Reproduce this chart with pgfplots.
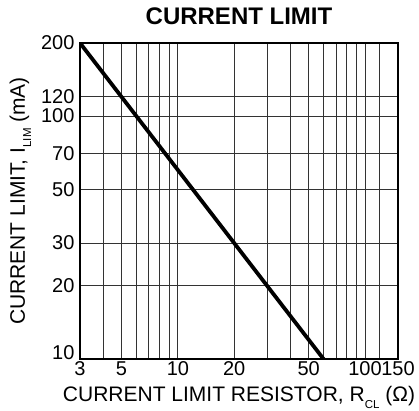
\documentclass[border=0pt]{standalone}
\usepackage{fontspec}
\setmainfont{Liberation Sans}
\usepackage{pgfplots}
\pgfplotsset{compat=1.18}
\begin{document}
\begin{tikzpicture}
\begin{axis}[
  xmode=log, ymode=log,
  scale only axis, width=318pt, height=316pt,
  xmin=3, xmax=150, ymin=10, ymax=200,
  xtick={3,5,10,20,50,100,150},
  xticklabels={3,5,10,20,50,100,150},
  ytick={10,20,30,50,70,100,120,200},
  yticklabels={\raisebox{12pt}{10},20,30,50,70,100,120,200},
  minor xtick={4,6,7,8,9,30,40,60,70,80,90,120},
  minor ytick={},
  grid=both,
  major grid style={black!80, line width=0.9pt},
  minor grid style={black!80, line width=0.9pt},
  major tick length=0pt, minor tick length=0pt,
  axis line style={line width=2.2pt},
  tick label style={font=\fontsize{20}{23}\selectfont},
  yticklabel style={xshift=-2pt},
  xticklabel style={yshift=1pt},
  xlabel={CURRENT LIMIT RESISTOR, R\raisebox{-0.55ex}{\fontsize{11.5}{12}\selectfont CL} (Ω)},
  ylabel={CURRENT LIMIT, I\raisebox{-0.55ex}{\fontsize{11.5}{12}\selectfont LIM} (mA)},
  xlabel style={font=\fontsize{21}{24}\selectfont, at={(axis description cs:0.5,-0.136)}, anchor=base},
  ylabel style={font=\fontsize{21}{24}\selectfont, at={(axis description cs:-0.173,0.5)}, anchor=base},
  title={CURRENT LIMIT},
  every axis title shift=0pt,
  title style={font=\fontsize{24}{27}\selectfont\bfseries, at={(axis description cs:0.5,1.057)}, anchor=base},
  /pgf/number format/assume math mode=true,
]
\addplot[black, line width=3.8pt] coordinates {(3,200) (60,10)};
\end{axis}
\pgfresetboundingbox
\path[use as bounding box] (current axis.south west) ++(-80pt,-51pt) rectangle ++(419pt,410pt);
\end{tikzpicture}
\end{document}
